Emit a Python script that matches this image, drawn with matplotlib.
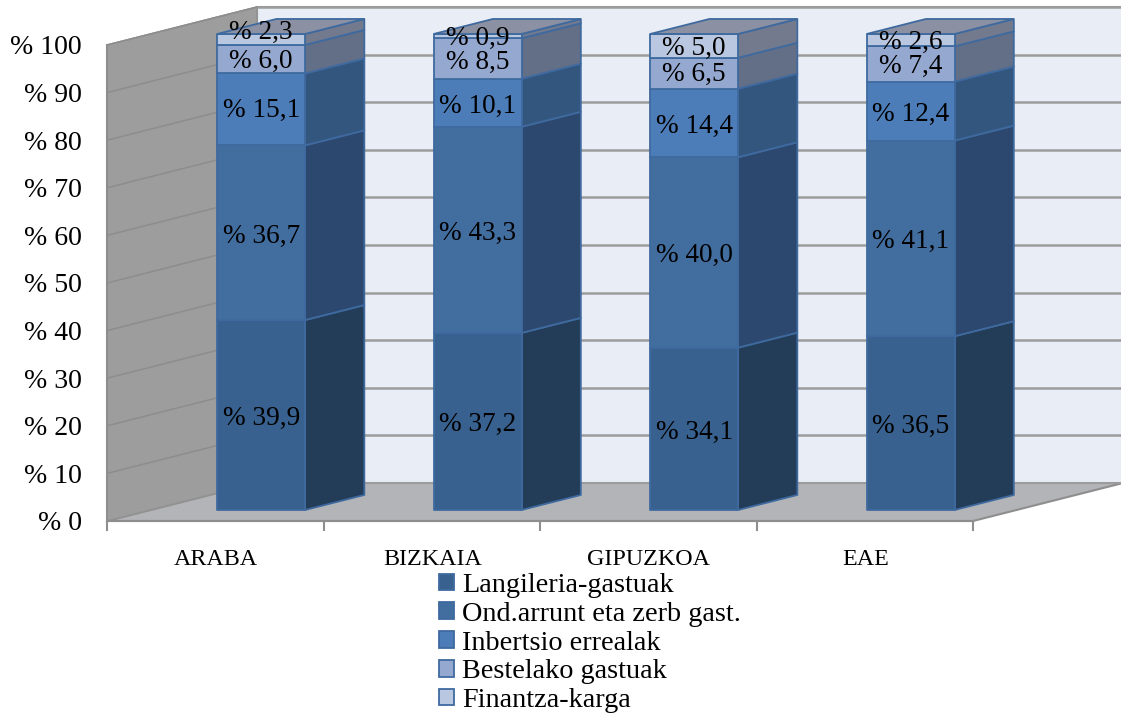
import matplotlib
matplotlib.use("Agg")
import matplotlib.pyplot as plt
from matplotlib.patches import Patch

categories = ["ARABA", "BIZKAIA", "GIPUZKOA", "EAE"]
series_names = ["Langileria-gastuak", "Ond.arrunt eta zerb gast.", "Inbertsio errealak",
                "Bestelako gastuak", "Finantza-karga"]
langileria = [39.9, 37.2, 34.1, 36.5]
ondasunak = [36.7, 43.3, 40.0, 41.1]
inbertsio = [15.1, 10.1, 14.4, 12.4]
bestelako = [6.0, 8.5, 6.5, 7.4]
finantza = [2.3, 0.9, 5.0, 2.6]
series_values = [langileria, ondasunak, inbertsio, bestelako, finantza]
y_ticks = list(range(0, 101, 10))

front_colors = ["#38618F", "#426D9F", "#4C7DB9", "#95A8D0", "#BAC7E0"]
side_colors = ["#233D59", "#2C486E", "#33567F", "#636E87", "#737A8E"]
top_color = "#8B90A3"
edge_color = "#3F6A9F"
grid_color = "#9C9C9C"
FONT = "Liberation Serif"
FS = 19.6

W, H = 1121, 713
fig = plt.figure(figsize=(W / 100, H / 100), dpi=100, facecolor="white")
ax = fig.add_axes([107 / W, 1 - 521 / H, 866 / W, 476 / H])
ax.set_xlim(0, 4)
ax.set_ylim(0, 100)
ax.patch.set_visible(False)

DX = 150 / 216.5   # depth shift, in category units
DY = 38 / 4.76     # depth shift, in value units
BAR_D0, BAR_D1 = 0.29, 0.685
BAR_X0, BAR_W = 0.308, 0.406


def proj(x, v, d):
    return x + d * DX, v + d * DY


def face(points, **kw):
    xs, ys = zip(*[proj(*p) for p in points])
    return ax.fill(xs, ys, clip_on=False, **kw)


# walls and floor
face([(0, 0, 0), (4, 0, 0), (4, 0, 1), (0, 0, 1)], facecolor="#B2B4B8", edgecolor="#8E8E8E", lw=1.5, zorder=1)
face([(0, 0, 1), (4, 0, 1), (4, 100, 1), (0, 100, 1)], facecolor="#E9EDF6", edgecolor="#9C9C9C", lw=1.5, zorder=1)
face([(0, 0, 0), (0, 0, 1), (0, 100, 1), (0, 100, 0)], facecolor="#9D9D9D", edgecolor="#929292", lw=1.2, zorder=2)

# gridlines on back and left wall
for v in y_ticks[1:]:
    x, y = zip(*[proj(0, v, 0), proj(0, v, 1), proj(4, v, 1)])
    ax.plot(x[1:], y[1:], color=grid_color, lw=1.8, clip_on=False, zorder=2)
    ax.plot(x[:2], y[:2], color="#8F8C8C", lw=1.1, clip_on=False, zorder=3)

# stacked bars
default_nudge = -0.7
nudges = {(0, 4): 1.4, (1, 4): -0.4, (2, 4): -0.6, (3, 4): -0.4,
          (0, 3): -0.4, (1, 3): -0.8, (2, 3): -0.2, (3, 3): -0.6, (0, 2): -0.2}
for i, cat in enumerate(categories):
    x0 = i + BAR_X0
    x1 = x0 + BAR_W
    base = 0.0
    for s, vals in enumerate(series_values):
        v = vals[i]
        top = base + v
        line = dict(edgecolor=edge_color, lw=1.3, joinstyle="round", zorder=5)
        face([(x1, base, BAR_D0), (x1, base, BAR_D1), (x1, top, BAR_D1), (x1, top, BAR_D0)],
             facecolor=side_colors[s], **line)
        face([(x0, base, BAR_D0), (x1, base, BAR_D0), (x1, top, BAR_D0), (x0, top, BAR_D0)],
             facecolor=front_colors[s], **line)
        lx, ly = proj((x0 + x1) / 2, base + v / 2 + nudges.get((i, s), default_nudge), BAR_D0)
        ax.text(lx, ly, "% " + f"{v:.1f}".replace(".", ","), ha="center", va="center",
                fontsize=FS, family=FONT, color="black", zorder=8, clip_on=False)
        base = top
    face([(x0, 100, BAR_D0), (x1, 100, BAR_D0), (x1, 100, BAR_D1), (x0, 100, BAR_D1)],
         facecolor=top_color, edgecolor=edge_color, lw=1.3, zorder=5)

# axes
for name in ("top", "right"):
    ax.spines[name].set_visible(False)
for name in ("left", "bottom"):
    ax.spines[name].set_color("#8E8E8E")
    ax.spines[name].set_linewidth(1.5)
    ax.spines[name].set_zorder(6)
ax.set_yticks(y_ticks)
ax.set_yticklabels([f"% {v}" for v in y_ticks], fontsize=20, family=FONT)
ax.tick_params(axis="y", length=0, pad=18)
ax.set_xticks(range(5))
ax.set_xticklabels([])
ax.tick_params(axis="x", which="major", length=7, width=1.5, color="#8E8E8E")
ax.set_xticks([i + 0.503 for i in range(4)], minor=True)
ax.set_xticklabels(categories, minor=True, fontsize=17.3, family=FONT)
ax.tick_params(axis="x", which="minor", length=0, pad=20)

handles = [Patch(facecolor=c, edgecolor=edge_color, lw=1.3) for c in front_colors]
fig.legend(handles, series_names, loc="center left", bbox_to_anchor=(439 / W, 1 - 643 / H),
           frameon=False, prop={"family": FONT, "size": 20.3}, handlelength=0.53,
           handleheight=0.53, handletextpad=0.28, labelspacing=0.135, borderpad=0, borderaxespad=0)

fig.savefig("out.png", dpi=100, facecolor="white")
